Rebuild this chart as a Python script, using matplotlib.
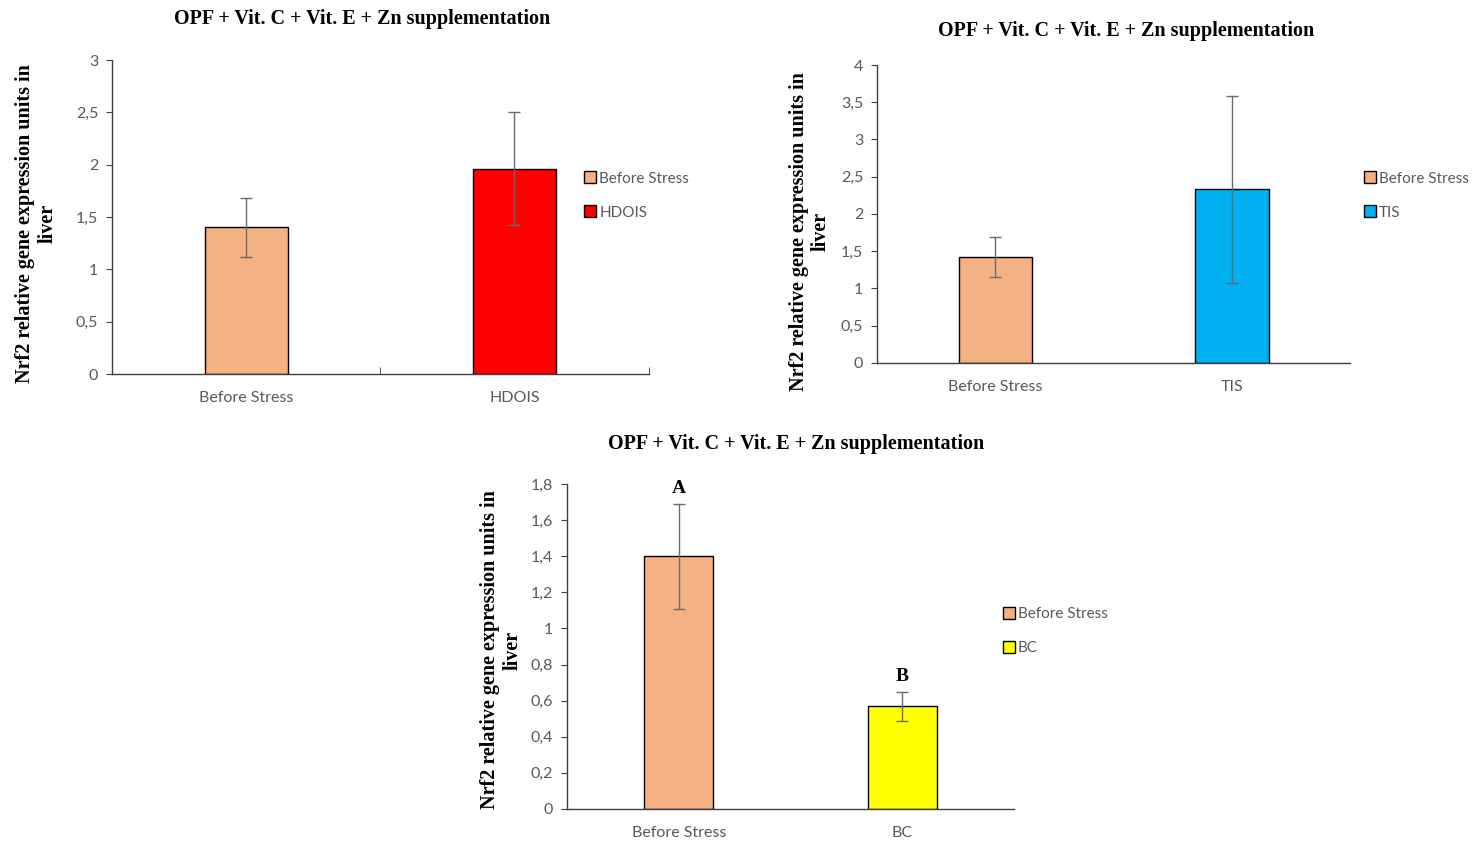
import matplotlib.pyplot as plt
from matplotlib.lines import Line2D

# Data
title = "OPF + Vit. C + Vit. E + Zn supplementation"
ylabel = "Nrf2 relative gene expression units in\nliver"

cats_hdois = ["Before Stress", "HDOIS"]
vals_hdois = [1.40, 1.96]
errs_hdois = [0.28, 0.54]

cats_tis = ["Before Stress", "TIS"]
vals_tis = [1.42, 2.33]
errs_tis = [0.27, 1.26]

cats_bc = ["Before Stress", "BC"]
vals_bc = [1.40, 0.57]
errs_bc = [0.29, 0.08]
letters_bc = ["A", "B"]

color_before = "#F4B183"
color_hdois = "#FF0000"
color_tis = "#00B0F0"
color_bc = "#FFFF00"

tick_font = "Lato"
serif = "Liberation Serif"

fig = plt.figure(figsize=(14.74, 8.42), dpi=100)


def panel(rect, cats, vals, errs, colors, ymax, step, xticks_on,
          legend_xy, title_xy, ylab_xy):
    ax = fig.add_axes(rect)
    x = range(len(cats))
    ax.bar(x, vals, width=0.31, color=colors, edgecolor="black", linewidth=1.0, zorder=2)
    ax.errorbar(x, vals, yerr=errs, fmt="none", ecolor="#6b6b6b", elinewidth=1.0,
                capsize=4, capthick=1.0, zorder=3)
    ax.set_xlim(-0.5, len(cats) - 0.5)
    ax.set_ylim(0, ymax)
    ticks = [i * step for i in range(int(round(ymax / step)) + 1)]
    labels = [("%g" % round(t, 1)).replace(".", ",") for t in ticks]
    ax.set_yticks(ticks)
    ax.set_yticklabels(labels, fontfamily=tick_font, fontsize=11.5, color="#595959")
    ax.set_xticks(list(x))
    ax.set_xticklabels(cats, fontfamily=tick_font, fontsize=11.5, color="#595959")
    ax.tick_params(axis="x", length=0, pad=12)
    ax.tick_params(axis="y", length=4, color="#404040", pad=6)
    if xticks_on:
        ax.set_xticks([-0.5, 0.5, 1.5], minor=True)
        ax.tick_params(axis="x", which="minor", length=5, direction="in", color="#404040")
    for s in ["top", "right"]:
        ax.spines[s].set_visible(False)
    for s in ["left", "bottom"]:
        ax.spines[s].set_color("#404040")
        ax.spines[s].set_linewidth(1.0)
    fig.text(title_xy[0], title_xy[1], title, ha="center", va="center",
             fontfamily=serif, fontweight="bold", fontsize=14.5)
    fig.text(ylab_xy[0], ylab_xy[1], ylabel, ha="center", va="center", rotation=90,
             fontfamily=serif, fontweight="bold", fontsize=14.5, linespacing=1.15)
    handles = [Line2D([0], [0], marker="s", linestyle="none", markersize=9,
                      markerfacecolor=c, markeredgecolor="black", markeredgewidth=1.0)
               for c in colors]
    fig.legend(handles, cats, loc="upper left", bbox_to_anchor=legend_xy, frameon=False,
               prop={"family": tick_font, "size": 11}, labelcolor="#595959",
               handletextpad=0.1, labelspacing=1.3, handlelength=1.0, borderpad=0)
    return ax


panel([0.076, 0.5558, 0.364, 0.3729], cats_hdois, vals_hdois, errs_hdois,
      [color_before, color_hdois], 3, 0.5, True,
      (0.390, 0.805), (0.2456, 0.978), (0.0245, 0.735))

panel([0.595, 0.569, 0.321, 0.3538], cats_tis, vals_tis, errs_tis,
      [color_before, color_tis], 4, 0.5, False,
      (0.919, 0.805), (0.7639, 0.963), (0.5495, 0.725))

ax3 = panel([0.3847, 0.0392, 0.3033, 0.386], cats_bc, vals_bc, errs_bc,
            [color_before, color_bc], 1.8, 0.2, False,
            (0.674, 0.288), (0.540, 0.473), (0.340, 0.228))
for i, (v, e, t) in enumerate(zip(vals_bc, errs_bc, letters_bc)):
    ax3.text(i, v + e + 0.085, t, ha="center", va="center",
             fontfamily=serif, fontweight="bold", fontsize=14)

fig.savefig("out.png", dpi=100, facecolor="white")
